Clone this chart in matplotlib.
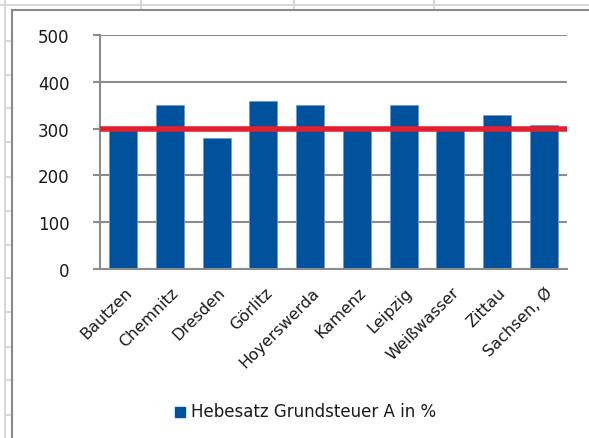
import matplotlib
matplotlib.use("Agg")
import matplotlib.pyplot as plt
from matplotlib.lines import Line2D
from matplotlib.patches import Rectangle
import matplotlib.transforms as mtransforms

# data
cities = ["Bautzen", "Chemnitz", "Dresden", "Görlitz", "Hoyerswerda",
          "Kamenz", "Leipzig", "Weißwasser", "Zittau", "Sachsen, Ø"]
hebesatz = [300, 350, 280, 360, 350, 300, 350, 300, 330, 307]
reference_line = 300
y_ticks = [0, 100, 200, 300, 400, 500]

bar_color = "#00529c"
line_color = "#e3202e"
grid_color = "#8c8c8c"

plt.rcParams["font.family"] = ["DejaVu Sans"]

W, H = 589, 439
fig = plt.figure(figsize=(W / 100, H / 100), dpi=100)


def px(x, y):
    # pixel coords (top-left origin) -> figure fraction
    return x / W, 1 - y / H


# spreadsheet cell lines behind the chart
sheet = "#d9d9d9"
fig.add_artist(Line2D([0, 1], [px(0, 6)[1]] * 2, color=sheet, lw=1.5))
for xv in [5, 141, 294, 434]:
    fig.add_artist(Line2D([px(xv, 0)[0]] * 2, [1, px(0, 10)[1]], color=sheet, lw=1.5))
fig.add_artist(Line2D([px(5, 0)[0]] * 2, [0, 1], color=sheet, lw=1.5))
for yv in [42, 76, 109, 143, 178, 212, 246, 279, 313, 348, 381, 416]:
    fig.add_artist(Line2D([px(5, 0)[0], px(12, 0)[0]], [px(0, yv)[1]] * 2, color=sheet, lw=1.5))

# chart frame
fig.add_artist(Line2D([px(12, 0)[0]] * 2, [0, px(0, 11)[1]], color="#8a8a8a", lw=1.5))
fig.add_artist(Line2D([px(12, 0)[0], 1], [px(0, 11)[1]] * 2, color="#8a8a8a", lw=1.5))

left, top = px(100, 36)
right, bottom = px(567, 270)
ax = fig.add_axes([left, bottom, right - left, top - bottom])

x = range(len(cities))
ax.bar(x, hebesatz, width=0.6, color=bar_color, edgecolor="#6d9bd1",
       linewidth=0.6, zorder=2)
ax.axhline(reference_line, color=line_color, lw=4, zorder=3)

ax.set_xlim(-0.5, len(cities) - 0.5)
ax.set_ylim(0, 500)
ax.set_yticks(y_ticks)
ax.yaxis.grid(True, color=grid_color, lw=1.5, zorder=0)
ax.set_axisbelow(True)

for s in ["top", "right"]:
    ax.spines[s].set_visible(False)
for s in ["left", "bottom"]:
    ax.spines[s].set_color(grid_color)
    ax.spines[s].set_linewidth(1.5)

ax.tick_params(axis="y", length=5, width=1.5, color=grid_color,
               labelsize=12, pad=17, labelcolor="#1a1a1a")
ax.tick_params(axis="x", length=0, pad=11)
ax.set_xticks(list(x))
ax.set_xticklabels(cities, rotation=45, ha="right", rotation_mode="anchor",
                   fontsize=11.5, color="#1a1a1a")
offset = mtransforms.ScaledTranslation(1 / 100, 0, fig.dpi_scale_trans)
for lab in ax.get_xticklabels():
    lab.set_transform(lab.get_transform() + offset)

# legend
lx, ly = px(175, 418)
fig.add_artist(Rectangle((lx, ly), 10 / W, 10 / H, color=bar_color,
                         transform=fig.transFigure))
tx, ty = px(191, 412)
fig.text(tx, ty, "Hebesatz Grundsteuer A in %", fontsize=12,
         va="center", ha="left", color="#1a1a1a")

fig.savefig("out.png", dpi=100)
